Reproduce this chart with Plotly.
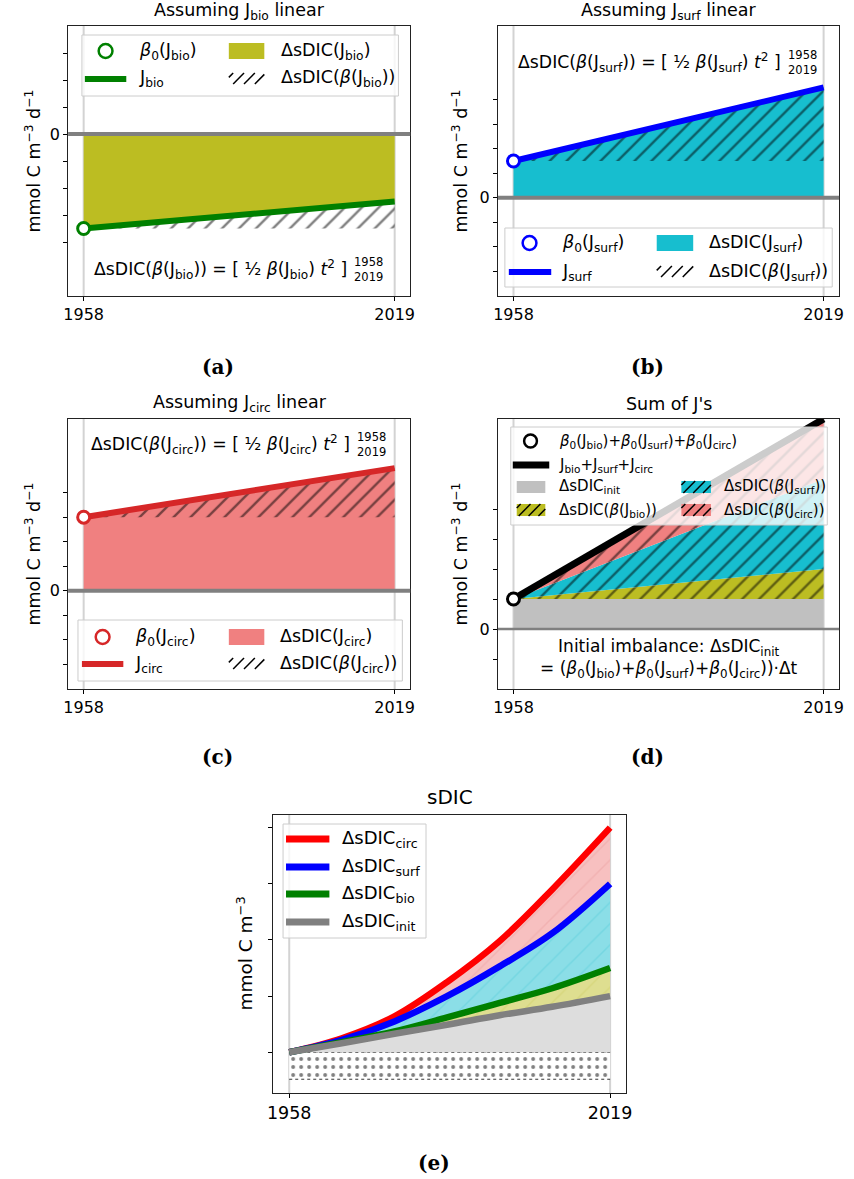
import plotly.graph_objects as go

W, H = 854, 1179

# ---------------- data ----------------
years = [1958, 2019]
J_bio = [-3.5, -2.5]     # mmol C m-3 d-1, start / end
J_surf = [1.5, 4.5]
J_circ = [3.0, 5.0]

years_e = [1958, 1968, 1978, 1988, 1998, 2008, 2019]
sDIC_init = [0.0, 0.16, 0.33, 0.49, 0.66, 0.81, 1.0]
sDIC_bio = [0.0, 0.18, 0.37, 0.62, 0.88, 1.14, 1.5]
sDIC_surf = [0.0, 0.22, 0.55, 1.0, 1.53, 2.12, 3.0]
sDIC_circ = [0.0, 0.25, 0.64, 1.25, 1.98, 2.9, 4.0]
sDIC_base = -0.48

# colours
OLIVE, CYAN, CORAL = "#bcbd22", "#17becf", "#f08080"
GREEN, BLUE, TRED = "#008000", "#0000ff", "#d62728"
RED, GRAY, SILVER = "#ff0000", "#808080", "#c0c0c0"

FONT = "DejaVu Sans"
fig = go.Figure()
shapes, annots = [], []

# ---------------- axes ----------------
panels = {
    "a": dict(ax="", px=(63, 410), py=(26, 296), yr=[-6, 4], yt=[-4, -3, -2, -1, 0, 1, 2, 3]),
    "b": dict(ax="2", px=(499, 845), py=(26, 296), yr=[-4, 7], yt=[-3, -2, -1, 0, 1, 2, 3, 4]),
    "c": dict(ax="3", px=(63, 410), py=(419, 689), yr=[-4, 7], yt=[-3, -2, -1, 0, 1, 2, 3, 4]),
    "d": dict(ax="4", px=(499, 845), py=(419, 689), yr=[-2, 7], yt=[-1, 0, 1, 2, 3, 4]),
    "e": dict(ax="5", px=(271, 629), py=(815, 1093), yr=[-0.725, 4.225], yt=[0, 1, 2, 3, 4]),
}
XR = [1954.95, 2022.05]
layout_axes = {}
for k, p in panels.items():
    fs = 17.5 if k == "e" else 16
    ytext = ["" if (v != 0 or k == "e") else "0" for v in p["yt"]]
    layout_axes["xaxis" + p["ax"]] = dict(
        domain=[p["px"][0] / W, p["px"][1] / W], anchor="y" + p["ax"], range=XR,
        tickvals=years, ticktext=[str(y) for y in years], ticks="outside", ticklen=4,
        tickwidth=1, tickcolor="black", showline=True, mirror=True, linecolor="#222",
        linewidth=1.2, showgrid=False, zeroline=False, tickfont=dict(size=fs, color="black"))
    layout_axes["yaxis" + p["ax"]] = dict(
        domain=[1 - p["py"][1] / H, 1 - p["py"][0] / H], anchor="x" + p["ax"], range=p["yr"],
        tickvals=p["yt"], ticktext=ytext, ticks="outside", ticklen=4, tickwidth=1,
        tickcolor="black", showline=True, mirror=True, linecolor="#222", linewidth=1.2,
        showgrid=False, zeroline=False, tickfont=dict(size=fs, color="black"))
    # vertical light grey lines at 1958 / 2019
    for yv in years:
        shapes.append(dict(type="line", xref="x" + p["ax"], yref="y" + p["ax"] + " domain",
                           x0=yv, x1=yv, y0=0, y1=1, line=dict(color="#d3d3d3", width=2), layer="below"))
    if k != "e":
        shapes.append(dict(type="line", xref="x" + p["ax"] + " domain", yref="y" + p["ax"],
                           x0=0, x1=1, y0=0, y1=0,
                           line=dict(color=GRAY, width=2.5 if k == "d" else 4), layer="above"))

NOFILL = "rgba(0,0,0,0)"


def hatch_pattern(bg=NOFILL, fg="black", size=12, sol=0.2):
    return dict(shape="/", size=size, solidity=sol, fgcolor=fg, bgcolor=bg, fillmode="overlay")


# ---------------- panels a, b, c ----------------
def single(ax, J, fillc, linec):
    xa, ya = "x" + ax, "y" + ax
    fig.add_trace(go.Scatter(x=[years[0], years[1], years[1], years[0]], y=[0, 0, J[1], J[0]],
                             fill="toself", fillcolor=fillc, mode="lines", line=dict(width=0),
                             xaxis=xa, yaxis=ya, hoverinfo="skip"))
    fig.add_trace(go.Scatter(x=[years[0], years[1], years[1]], y=[J[0], J[1], J[0]],
                             fill="toself", fillcolor=NOFILL, fillpattern=hatch_pattern(),
                             mode="lines", line=dict(width=0), xaxis=xa, yaxis=ya, hoverinfo="skip"))
    fig.add_trace(go.Scatter(x=years, y=J, mode="lines", line=dict(color=linec, width=6),
                             xaxis=xa, yaxis=ya))
    fig.add_trace(go.Scatter(x=[years[0]], y=[J[0]], mode="markers",
                             marker=dict(symbol="circle", size=12, color="white",
                                         line=dict(color=linec, width=3)), xaxis=xa, yaxis=ya))


single("", J_bio, OLIVE, GREEN)
single("2", J_surf, CYAN, BLUE)
single("3", J_circ, CORAL, TRED)

# ---------------- panel d ----------------
S0 = J_bio[0] + J_surf[0] + J_circ[0]
d_bio = J_bio[1] - J_bio[0]
d_surf = J_surf[1] - J_surf[0]
d_circ = J_circ[1] - J_circ[0]
fig.add_trace(go.Scatter(x=[years[0], years[1], years[1], years[0]], y=[0, 0, S0, S0], fill="toself",
                         fillcolor=SILVER, mode="lines", line=dict(width=0), xaxis="x4", yaxis="y4"))
lvl = [S0, S0 + d_bio, S0 + d_bio + d_surf, S0 + d_bio + d_surf + d_circ]
for i, col in enumerate([OLIVE, CYAN, CORAL]):
    fig.add_trace(go.Scatter(x=[years[0], years[1], years[1]], y=[S0, lvl[i], lvl[i + 1]],
                             fill="toself", fillcolor=col, fillpattern=hatch_pattern(bg=col),
                             mode="lines", line=dict(width=0), xaxis="x4", yaxis="y4"))
fig.add_trace(go.Scatter(x=years, y=[S0, lvl[3]], mode="lines", line=dict(color="black", width=7),
                         xaxis="x4", yaxis="y4"))
fig.add_trace(go.Scatter(x=[years[0]], y=[S0], mode="markers",
                         marker=dict(symbol="circle", size=12, color="white", line=dict(color="black", width=3)),
                         xaxis="x4", yaxis="y4"))

# ---------------- panel e ----------------
fig.add_trace(go.Scatter(x=[years[0], years[1], years[1], years[0]], y=[0, 0, sDIC_base, sDIC_base],
                         fill="toself", fillcolor="white",
                         fillpattern=dict(shape=".", size=8, solidity=0.18, fgcolor="black", bgcolor="white"),
                         mode="lines", line=dict(width=0), xaxis="x5", yaxis="y5"))
for yv in [0, sDIC_base]:
    fig.add_trace(go.Scatter(x=years, y=[yv, yv], mode="lines",
                             line=dict(color="black", width=0.8, dash="dot"), xaxis="x5", yaxis="y5"))
fig.add_trace(go.Scatter(x=years_e, y=sDIC_init, fill="tozeroy", fillcolor="#dddddd", mode="lines",
                         line=dict(width=0, shape="spline"), xaxis="x5", yaxis="y5"))
for ser, bg, fg in [(sDIC_bio, "#dede90", "#cfcf6a"), (sDIC_surf, "#8bdee7", "#5fcfdc"),
                    (sDIC_circ, "#f7c0c0", "#eda3a3")]:
    fig.add_trace(go.Scatter(x=years_e, y=ser, fill="tonexty", fillcolor=bg,
                             fillpattern=dict(shape="/", size=15, solidity=0.1, fgcolor=fg, bgcolor=bg),
                             mode="lines", line=dict(width=0, shape="spline"), xaxis="x5", yaxis="y5"))
for ser, col in [(sDIC_circ, RED), (sDIC_surf, BLUE), (sDIC_bio, GREEN), (sDIC_init, GRAY)]:
    fig.add_trace(go.Scatter(x=years_e, y=ser, mode="lines", line=dict(color=col, width=6.5, shape="spline"),
                             xaxis="x5", yaxis="y5"))


# ---------------- helpers for legend / text ----------------
def px_x(v):
    return v / W


def px_y(v):
    return 1 - v / H


def rect(x0, y0, x1, y1, fill, line=NOFILL, lw=0):
    shapes.append(dict(type="rect", xref="paper", yref="paper", x0=px_x(x0), x1=px_x(x1),
                       y0=px_y(y1), y1=px_y(y0), fillcolor=fill, line=dict(color=line, width=lw), layer="above"))


def seg(x0, y0, x1, y1, color, lw):
    shapes.append(dict(type="line", xref="paper", yref="paper", x0=px_x(x0), x1=px_x(x1),
                       y0=px_y(y0), y1=px_y(y1), line=dict(color=color, width=lw), layer="above"))


def circ(cx, cy, color, d=13):
    r = d / 2
    shapes.append(dict(type="circle", xref="paper", yref="paper", x0=px_x(cx - r), x1=px_x(cx + r),
                       y0=px_y(cy + r), y1=px_y(cy - r), fillcolor="white",
                       line=dict(color=color, width=2.5), layer="above"))


def hatch(x0, x1, yt, yb, s=11, color="black", lw=1.5):
    h = yb - yt
    c = -h + s * 0.4
    while c < (x1 - x0):
        sx, sy, ex, ey = x0 + c, yb, x0 + c + h, yt
        if sx < x0:
            d = x0 - sx
            sx, sy = x0, yb - d
        if ex > x1:
            d = ex - x1
            ex, ey = x1, yt + d
        if ex > sx:
            seg(sx, sy, ex, ey, color, lw)
        c += s


def text(x, y, s, size=16, anchor="left", angle=0, family=FONT, color="black", pad=1):
    annots.append(dict(x=px_x(x), y=px_y(y), xref="paper", yref="paper", text=s, showarrow=False,
                       xanchor=anchor, yanchor="middle", textangle=angle, borderpad=pad,
                       font=dict(family=family, size=size, color=color)))


def legbox(x0, y0, x1, y1):
    rect(x0, y0, x1, y1, "rgba(255,255,255,0.8)", "#cccccc", 1)


B0 = "<i>β</i><sub>0</sub>"
BETA = "<i>β</i>"
FL = 17.5


def single_legend(box, r1, r2, cx, lx, t1, px0, px1, t2, name, linec, fillc):
    legbox(*box)
    circ(cx, r1, linec, 14)
    text(t1, r1, f"{B0}(J<sub>{name}</sub>)", FL)
    rect(px0, r1 - 8, px1, r1 + 8, fillc)
    text(t2, r1, f"ΔsDIC(J<sub>{name}</sub>)", FL)
    seg(lx[0], r2, lx[1], r2, linec, 6)
    text(t1, r2, f"J<sub>{name}</sub>", FL)
    hatch(px0, px1, r2 - 6, r2 + 5)
    text(t2, r2, f"ΔsDIC({BETA}(J<sub>{name}</sub>))", FL)


single_legend((77, 35, 398, 96), 51, 79, 101, (80, 122), 133, 226, 262, 277, "bio", GREEN, OLIVE)
single_legend((506, 228, 838, 287), 243, 272, 531, (510, 553), 562, 660, 697, 711, "surf", BLUE, CYAN)
single_legend((73, 620, 402, 681), 637, 664, 98, (77, 119), 129, 226, 262, 276, "circ", TRED, CORAL)

# legend d
legbox(512, 427, 833, 525)
fs_d = 15
circ(532, 441, "black")
text(559, 441, f"{B0}(J<sub>bio</sub>)+{B0}(J<sub>surf</sub>)+{B0}(J<sub>circ</sub>)", fs_d)
seg(514, 465, 551, 465, "black", 7)
text(559, 465, "J<sub>bio</sub>+J<sub>surf</sub>+J<sub>circ</sub>", fs_d)
rect(518, 481, 547, 493, SILVER)
text(559, 487, "ΔsDIC<sub>init</sub>", fs_d)
rect(518, 504, 547, 516, OLIVE)
hatch(518, 547, 504, 516, 10)
text(559, 510, f"ΔsDIC({BETA}(J<sub>bio</sub>))", fs_d)
rect(685, 481, 715, 493, CYAN)
hatch(685, 715, 481, 493, 10)
text(726, 487, f"ΔsDIC({BETA}(J<sub>surf</sub>))", fs_d)
rect(685, 504, 715, 516, CORAL)
hatch(685, 715, 504, 516, 10)
text(726, 510, f"ΔsDIC({BETA}(J<sub>circ</sub>))", fs_d)

# legend e
legbox(281, 824, 426, 938)
for yy, col, nm in [(839, RED, "circ"), (867, BLUE, "surf"), (894, GREEN, "bio"), (922, GRAY, "init")]:
    seg(284, yy, 328, yy, col, 7)
    text(339, yy, f"ΔsDIC<sub>{nm}</sub>", 18)

# formulas
for (xr, y, name) in [(352, 269, "bio"), (792, 63, "surf"), (355, 444, "circ")]:
    text(xr - 5, y, f"ΔsDIC({BETA}(J<sub>{name}</sub>)) = [ ½ {BETA}(J<sub>{name}</sub>) <i>t</i><sup>2</sup> ]",
         17.3, anchor="right", pad=0)
    text(xr, y, "1958<br>2019", 11.5, pad=0)

text(672, 658, f"Initial imbalance: ΔsDIC<sub>init</sub><br>= ({B0}(J<sub>bio</sub>)+{B0}(J<sub>surf</sub>)+{B0}(J<sub>circ</sub>))·Δt",
     17, anchor="center")

# titles
text(237, 11, "Assuming J<sub>bio</sub> linear", 17.5, anchor="center")
text(672, 11, "Assuming J<sub>surf</sub> linear", 17.5, anchor="center")
text(237, 404, "Assuming J<sub>circ</sub> linear", 17.5, anchor="center")
text(672, 404, "Sum of J's", 17.5, anchor="center")
text(450, 797, "sDIC", 20, anchor="center")

# y labels
ylab = "mmol C m<sup>−3</sup> d<sup>−1</sup>"
text(27, 161, ylab, 17.5, anchor="center", angle=-90)
text(460, 161, ylab, 17.5, anchor="center", angle=-90)
text(27, 554, ylab, 17.5, anchor="center", angle=-90)
text(460, 554, ylab, 17.5, anchor="center", angle=-90)
text(242, 954, "mmol C m<sup>−3</sup>", 18.5, anchor="center", angle=-90)

# captions
for x, y, s in [(215, 367, "(a)"), (651, 367, "(b)"), (215, 757, "(c)"), (651, 757, "(d)"), (434, 1163, "(e)")]:
    text(x, y, f"<b>{s}</b>", 20, anchor="center", family="DejaVu Serif")

fig.update_layout(width=W, height=H, margin=dict(l=0, r=0, t=0, b=0), paper_bgcolor="white",
                  plot_bgcolor="white", showlegend=False, font=dict(family=FONT, color="black"),
                  shapes=shapes, annotations=annots, **layout_axes)
fig.write_html("out.html")
